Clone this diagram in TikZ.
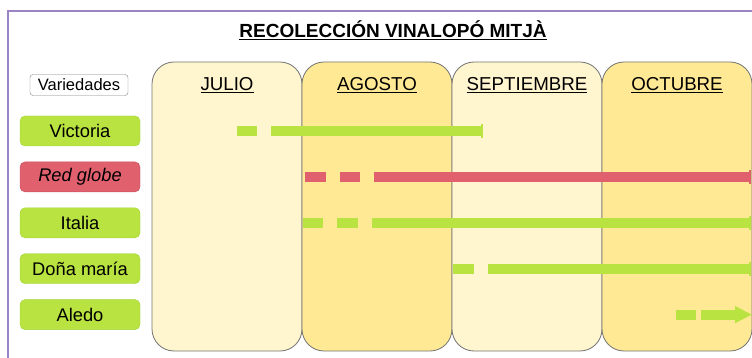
\documentclass[tikz,border=0pt]{standalone}
\usepackage{fontspec}
\setmainfont{Liberation Sans}
\usetikzlibrary{positioning,arrows.meta}
\definecolor{mesclaro}{HTML}{FFF5CE}
\definecolor{mesoscuro}{HTML}{FFE994}
\definecolor{verde}{HTML}{B9E340}
\definecolor{verdeborde}{HTML}{A2D238}
\definecolor{rojo}{HTML}{E0606E}
\definecolor{rojoborde}{HTML}{C8505E}
\definecolor{marco}{HTML}{9B84C4}

\begin{document}
\begin{tikzpicture}[x=1pt,y=-1pt,node distance=15.5pt,
    mes/.style={rectangle,rounded corners=22pt,draw=black!55,line width=0.8pt,minimum width=150pt,minimum height=289pt,inner sep=0pt,outer sep=0pt},
    mes label/.style={font=\fontsize{18.7}{20}\selectfont,inner sep=0pt},
    variedad/.style={rectangle,rounded corners=5pt,draw=verdeborde,fill=verde,minimum width=120pt,minimum height=30pt,font=\fontsize{18.3}{20}\selectfont,inner sep=0pt},
    barra/.style={line width=10pt,draw=verde},
    tope/.style={line width=2pt,draw=verde}]

  \useasboundingbox (0,0) rectangle (752,358);
  \draw[marco,line width=1.5pt] (8,358) |- (752,11);
  \node[font=\bfseries\fontsize{19}{21}\selectfont,inner sep=0pt] (titulo) at (393,30) {\underline{RECOLECCIÓN VINALOPÓ MITJÀ}};

  \node[mes,fill=mesclaro] (julio) at (227,206.5) {};
  \node[mes,fill=mesoscuro,right=0pt of julio] (agosto) {};
  \node[mes,fill=mesclaro,right=0pt of agosto] (septiembre) {};
  \node[mes,fill=mesoscuro,right=0pt of septiembre] (octubre) {};

  \node[mes label] (tjulio) at ([yshift=-23pt]julio.north) {\underline{JULIO}};
  \node[mes label] (tagosto) at ([yshift=-23pt]agosto.north) {\underline{AGOSTO}};
  \node[mes label] (tseptiembre) at ([yshift=-23pt]septiembre.north) {\underline{SEPTIEMBRE}};
  \node[mes label] (toctubre) at ([yshift=-23pt]octubre.north) {\underline{OCTUBRE}};

  \node[rectangle,rounded corners=3pt,draw=black!50,fill=white,minimum width=98pt,minimum height=21pt,inner sep=0pt,font=\fontsize{16.5}{18}\selectfont] (variedades) at (79,85) {Variedades};
  \node[variedad] (victoria) at (80,131) {Victoria};
  \node[variedad,fill=rojo,draw=rojoborde,below=of victoria,font=\itshape\fontsize{18.3}{20}\selectfont] (redglobe) {Red globe};
  \node[variedad,below=of redglobe] (italia) {Italia};
  \node[variedad,below=of italia] (donamaria) {Doña maría};
  \node[variedad,below=of donamaria] (aledo) {Aledo};

  \coordinate (vicA) at (237,0 |- victoria);
  \coordinate (vicB) at (482,0 |- victoria);
  \coordinate (redA) at (305,0 |- redglobe);
  \coordinate (redB) at (750,0 |- redglobe);
  \coordinate (itaA) at (303,0 |- italia);
  \coordinate (itaB) at (750,0 |- italia);
  \coordinate (donA) at (453,0 |- donamaria);
  \coordinate (donB) at (750,0 |- donamaria);
  \coordinate (aleA) at (676,0 |- aledo);
  \coordinate (aleB) at (752,0 |- aledo);

  \draw[barra,dash pattern=on 20pt off 14pt on 1000pt off 1pt] (vicA) -- (vicB);
  \draw[tope] ([yshift=7pt]vicB) -- ([yshift=-7pt]vicB);
  \draw[barra,draw=rojo,dash pattern=on 21pt off 14pt on 20pt off 14pt on 1000pt off 1pt] (redA) -- (redB);
  \draw[tope,draw=rojo] ([yshift=7pt]redB) -- ([yshift=-7pt]redB);
  \draw[barra,dash pattern=on 20pt off 14pt on 21pt off 14pt on 1000pt off 1pt] (itaA) -- (itaB);
  \draw[tope] ([yshift=7pt]itaB) -- ([yshift=-7pt]itaB);
  \draw[barra,dash pattern=on 21pt off 14pt on 1000pt off 1pt] (donA) -- (donB);
  \draw[tope] ([yshift=7pt]donB) -- ([yshift=-7pt]donB);
  \draw[barra,dash pattern=on 20pt off 5pt on 1000pt off 1pt,-{Triangle[length=17pt,width=16pt]}] (aleA) -- (aleB);

\end{tikzpicture}
\end{document}
